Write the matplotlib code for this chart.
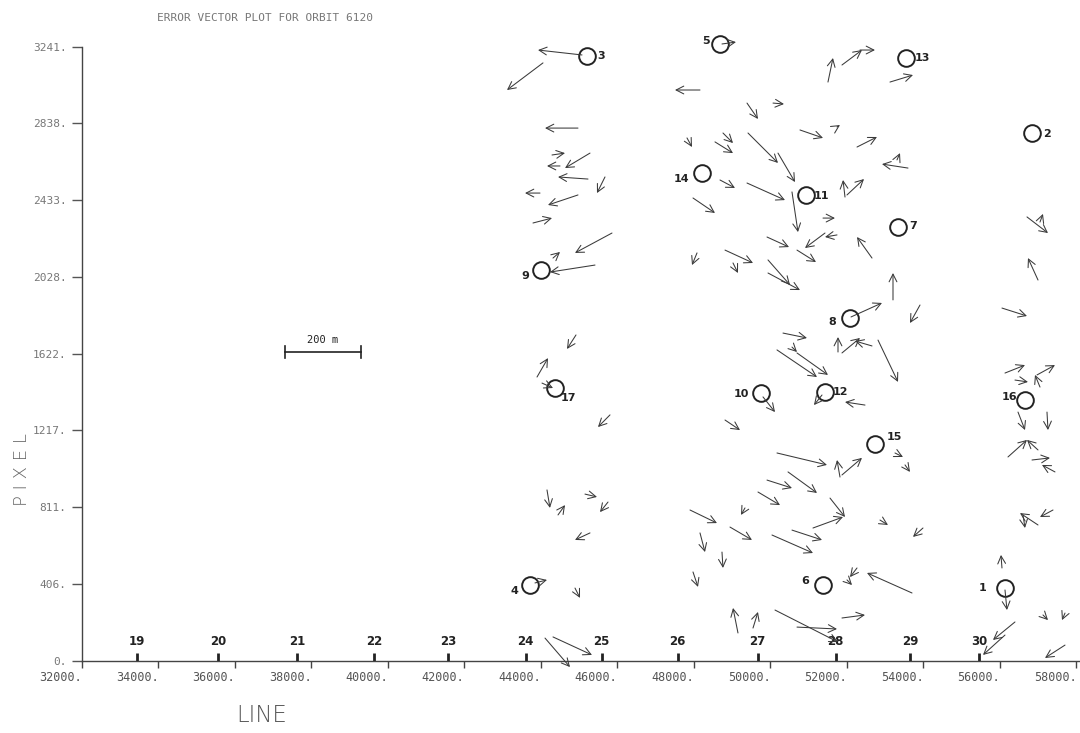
import matplotlib
matplotlib.use("Agg")
import matplotlib.pyplot as plt

# ground control points: id, line, pixel
gcp_id = [1, 2, 3, 4, 5, 6, 7, 8, 9, 10, 11, 12, 13, 14, 15, 16, 17]
gcp_line = [56131, 56837, 45203, 43713, 48680, 51373, 53334, 52079, 44000,
            49752, 50928, 51425, 53543, 48209, 52732, 56654, 44366]
gcp_pixel = [385, 2787, 3193, 401, 3257, 401, 2291, 1811, 2064,
             1415, 2460, 1420, 3183, 2576, 1145, 1378, 1441]

# error vectors: tail (line, pixel) -> head (line, pixel)
vectors = [
    (45072, 3199, 43922, 3225), (44052, 3157, 43111, 3014), (48157, 3014, 47503, 3014),
    (48732, 3257, 49098, 3267), (44967, 2813, 44105, 2813), (44288, 2671, 44628, 2681),
    (45281, 2681, 44628, 2602), (44497, 2613, 44157, 2613), (45229, 2544, 44445, 2555),
    (45673, 2555, 45464, 2470), (43974, 2470, 43582, 2470), (44967, 2460, 44183, 2407),
    (43791, 2312, 44288, 2338), (45856, 2259, 44889, 2154), (44314, 2127, 44497, 2159),
    (45412, 2090, 44235, 2053), (44915, 1721, 44680, 1647),
    (51503, 3056, 51634, 3183), (51869, 3146, 52392, 3225), (52340, 3225, 52732, 3225),
    (53124, 3056, 53726, 3093), (49386, 2945, 49673, 2861), (50066, 2945, 50353, 2940),
    (47817, 2761, 47948, 2713), (48549, 2740, 49020, 2681), (48758, 2787, 49020, 2734),
    (49412, 2787, 50196, 2629), (50196, 2681, 50641, 2528), (50771, 2803, 51373, 2761),
    (51739, 2819, 51817, 2829), (52262, 2713, 52784, 2766), (53595, 2602, 52915, 2623),
    (53307, 2645, 53386, 2681), (48680, 2539, 49072, 2497), (49386, 2523, 50379, 2433),
    (47974, 2444, 48549, 2365), (50562, 2476, 50719, 2264), (51948, 2449, 51896, 2539),
    (52000, 2460, 52445, 2544), (56706, 2344, 57255, 2259), (57046, 2317, 57124, 2360),
    (51373, 2338, 51686, 2338), (49909, 2238, 50484, 2185), (51739, 2249, 51425, 2238),
    (51425, 2259, 50902, 2180), (52654, 2127, 52262, 2238), (50693, 2169, 51190, 2106),
    (48079, 2154, 47948, 2090), (48811, 2169, 49543, 2101), (49020, 2101, 49150, 2048),
    (49935, 2117, 50510, 1985), (49935, 2048, 50771, 1958), (52105, 1816, 52915, 1890),
    (50327, 1731, 50954, 1705), (50562, 1657, 50693, 1631), (51765, 1631, 51765, 1710),
    (51869, 1626, 52340, 1705), (52811, 1694, 53334, 1473), (52654, 1663, 52210, 1689),
    (56994, 2011, 56732, 2127), (53203, 1906, 53203, 2048), (53909, 1879, 53647, 1784),
    (56052, 1863, 56706, 1821),
    (43896, 1499, 44183, 1599), (44026, 1467, 44314, 1441), (45804, 1299, 45490, 1235),
    (44157, 903, 44235, 808), (44445, 771, 44628, 823), (45150, 881, 45464, 866),
    (45752, 839, 45543, 786), (45281, 676, 44889, 639), (43843, 412, 44157, 428),
    (44889, 385, 45020, 333), (44105, 121, 44758, -32), (44314, 127, 45333, 32),
    (50170, 1642, 51216, 1499), (50693, 1626, 51503, 1510), (49804, 1394, 50118, 1314),
    (51347, 1404, 51137, 1351), (52471, 1351, 51948, 1367), (48811, 1272, 49203, 1219),
    (50170, 1098, 51477, 1035), (51817, 971, 51739, 1061), (51869, 982, 52392, 1072),
    (49909, 955, 50562, 913), (50458, 998, 51216, 887), (49673, 892, 50249, 823),
    (51556, 860, 51948, 760), (51111, 702, 51896, 760), (49333, 808, 49229, 771),
    (47896, 797, 48601, 728), (48941, 707, 49516, 639), (50562, 691, 51347, 639),
    (50039, 665, 51111, 570), (48157, 676, 48288, 575), (48732, 575, 48758, 491),
    (47974, 470, 48105, 391), (52262, 491, 52079, 443), (52000, 428, 52131, 401),
    (53700, 359, 52523, 465), (49150, 148, 49020, 280), (49543, 174, 49673, 259),
    (50118, 269, 51765, 100), (50693, 179, 51739, 169), (51869, 227, 52471, 243),
    (53255, 1098, 53464, 1077), (53517, 1035, 53647, 998), (52863, 744, 53072, 718),
    (53987, 702, 53726, 655),
    (56131, 1520, 56654, 1562), (56392, 1483, 56732, 1473), (57046, 1446, 56915, 1510),
    (56968, 1510, 57438, 1562), (56471, 1314, 56654, 1219), (57229, 1314, 57255, 1219),
    (56209, 1077, 56706, 1167), (56994, 1114, 56706, 1167), (56837, 1061, 57307, 1072),
    (57438, 998, 57098, 1035), (56994, 718, 56523, 781), (56602, 771, 56654, 702),
    (57386, 797, 57046, 760), (56052, 491, 56026, 560), (56131, 375, 56183, 269),
    (57124, 243, 57255, 216), (57700, 253, 57621, 216), (56392, 206, 55817, 111),
    (56131, 137, 55556, 32), (57700, 84, 57177, 16),
]

# frame numbers along the line axis
frame_num = [19, 20, 21, 22, 23, 24, 25, 26, 27, 28, 29, 30]
frame_line = [33438, 35556, 37621, 39634, 41569, 43600, 45585, 47572,
              49664, 51704, 53647, 55451]

x_ticks = list(range(32000, 58001, 2000))
y_ticks = [0, 406, 811, 1217, 1622, 2028, 2433, 2838, 3241]

# label offsets in points (dx, dy) for each control point
label_off = {1: (-16, 0), 2: (11, -1), 3: (10, 0), 4: (-11, -4), 5: (-10, 2),
             6: (-13, 3), 7: (11, 1), 8: (-13, -3), 9: (-11, -4), 10: (-14, -1),
             11: (11, -1), 12: (11, 0), 13: (12, 0), 14: (-15, -4), 15: (14, 5),
             16: (-11, 2), 17: (10, -7)}

ink = "#3a3a3a"

fig = plt.figure(figsize=(10.8, 7.33), dpi=100)
ax = fig.add_axes([82 / 1080, 72 / 733, 998 / 1080, 614 / 733])
ax.set_xlim(32000, 58092)
ax.set_ylim(0, 3241)

for s in ("top", "right"):
    ax.spines[s].set_visible(False)
for s in ("left", "bottom"):
    ax.spines[s].set_color("#444444")
    ax.spines[s].set_linewidth(1.0)

mono = "DejaVu Sans Mono"
ax.set_xticks(x_ticks)
ax.set_xticklabels([f"{v}." for v in x_ticks], fontsize=8.5, family=mono,
                   color="#555555", ha="right")
ax.set_yticks(y_ticks)
ax.set_yticklabels([f"{v}." for v in y_ticks], fontsize=8, family=mono,
                   color="#777777")
ax.tick_params(axis="x", direction="out", length=5, width=1, color="#444444", pad=2)
ax.tick_params(axis="y", direction="out", length=7, width=1, color="#555555", pad=4)

# frame ticks drawn upward from the axis
for n, xl in zip(frame_num, frame_line):
    ax.plot([xl, xl], [0, 42], color="#222222", lw=2.0, solid_capstyle="butt")
    ax.text(xl, 68, str(n), ha="center", va="bottom", fontsize=8.5,
            color="#222222", fontweight="bold")

for x0, y0, x1, y1 in vectors:
    ax.annotate("", xy=(x1, y1), xytext=(x0, y0), annotation_clip=False,
                arrowprops=dict(arrowstyle="->,head_length=0.55,head_width=0.28",
                                lw=0.75, color=ink, shrinkA=0, shrinkB=0))

ax.plot(gcp_line, gcp_pixel, "o", ms=12, mfc="none", mec="#222222", mew=1.4,
        clip_on=False)
for g, xl, yp in zip(gcp_id, gcp_line, gcp_pixel):
    dx, dy = label_off[g]
    ax.annotate(str(g), (xl, yp), xytext=(dx, dy), textcoords="offset points",
                ha="center", va="center", fontsize=8, color="#222222",
                fontweight="bold", annotation_clip=False)

# scale bar
ax.plot([37300, 39300], [1631, 1631], color="#222222", lw=1.2)
ax.plot([37300, 37300], [1600, 1662], color="#222222", lw=1.2)
ax.plot([39300, 39300], [1600, 1662], color="#222222", lw=1.2)
ax.text(38300, 1670, "200 m", ha="center", va="bottom", fontsize=7.5,
        family=mono, color="#222222")

fig.text(157 / 1080, 1 - 18 / 733, "ERROR VECTOR PLOT FOR ORBIT 6120",
         family=mono, fontsize=8, color="#777777", ha="left", va="center")
fig.text(22 / 1080, 1 - 470 / 733, "P I X E L", rotation=90, fontsize=13,
         color="#666666", ha="center", va="center", fontweight="light")
fig.text(262 / 1080, 1 - 715 / 733, "LINE", fontsize=16.5, color="#555555",
         ha="center", va="center", fontweight="light")

fig.savefig("out.png", dpi=100, facecolor="white")
